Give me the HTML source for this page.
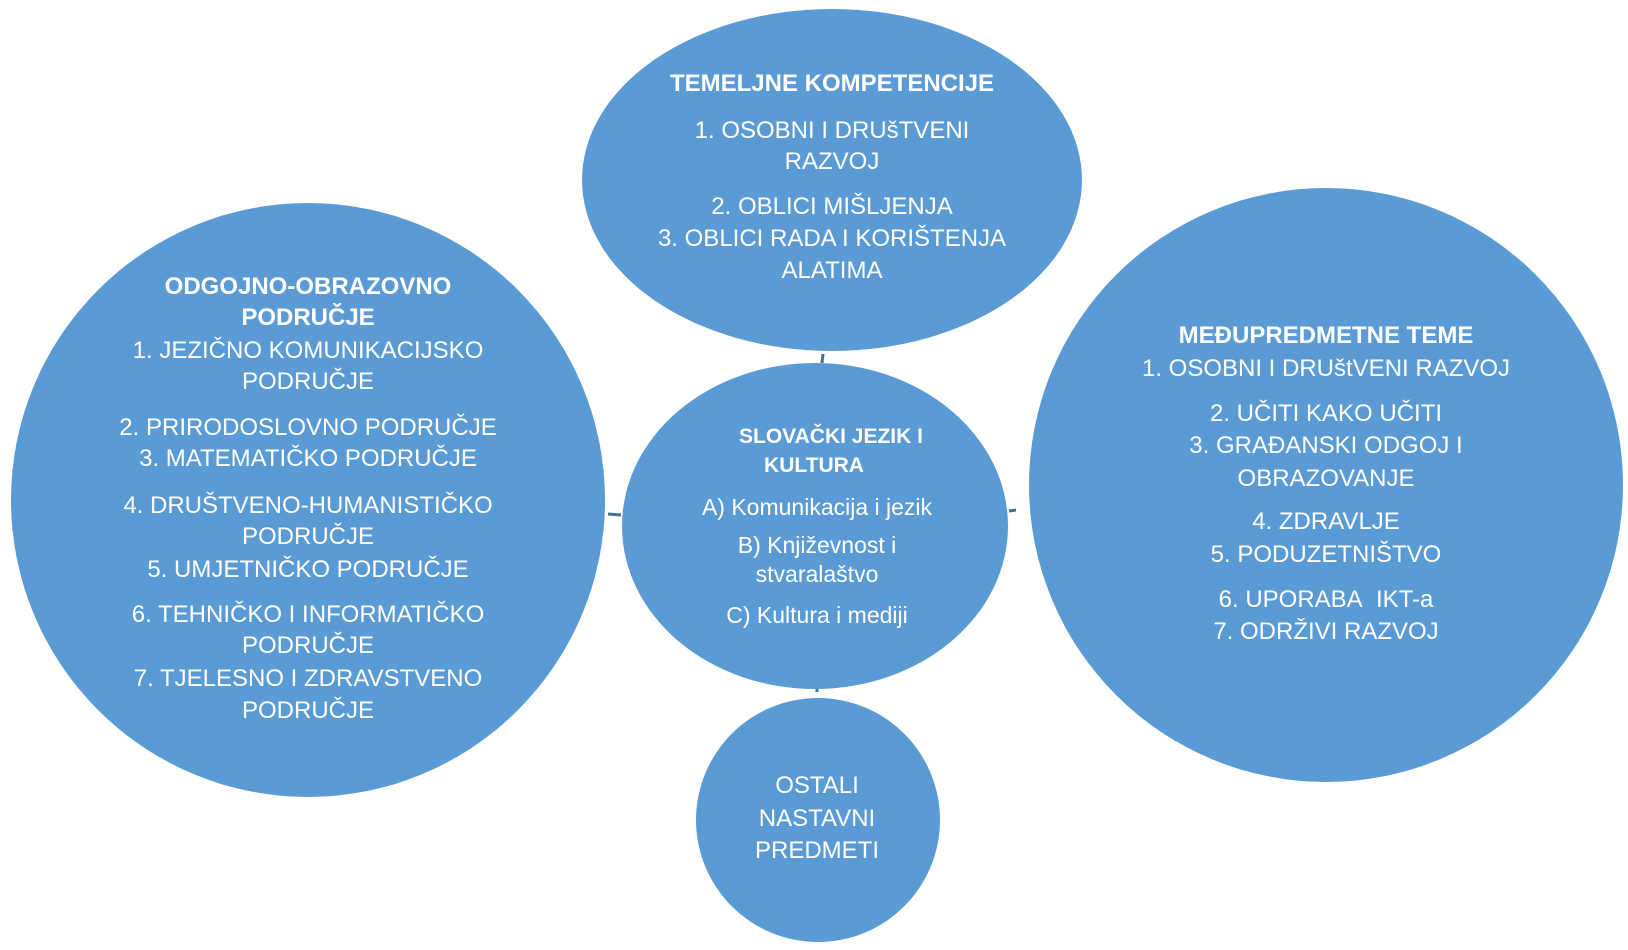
<!DOCTYPE html>
<html><head><meta charset="utf-8"><style>
body{margin:0;width:1628px;height:950px;background:#fff;position:relative;overflow:hidden;font-family:"Liberation Sans",sans-serif;}
.t{position:absolute;color:#fff;white-space:nowrap;line-height:30px;height:30px;transform:translateX(-50%);font-size:24px;}
.b{font-weight:bold;}
.s{font-size:23px;}
.sb{font-size:21px;}
</style></head><body>
<svg width="1628" height="950" style="position:absolute;left:0;top:0">
<g fill="#5b9bd5">
<ellipse cx="832" cy="180" rx="250" ry="171"/>
<circle cx="308" cy="500" r="297"/>
<circle cx="1326" cy="485" r="297"/>
<circle cx="818" cy="820" r="122"/>
<ellipse cx="815" cy="526" rx="193" ry="163"/>
</g>
<g stroke="#41719c" stroke-width="3">
<line x1="823" y1="354" x2="822" y2="363"/>
<line x1="608" y1="514" x2="621" y2="515"/>
<line x1="1009" y1="511" x2="1016" y2="510"/>
<line x1="817" y1="689" x2="817" y2="692"/>
</g>
</svg>
<div class="t b" style="left:832px;top:69px">TEMELJNE KOMPETENCIJE</div>
<div class="t" style="left:832px;top:116px">1. OSOBNI I DRUšTVENI</div>
<div class="t" style="left:832px;top:147px">RAZVOJ</div>
<div class="t" style="left:832px;top:192px">2. OBLICI MIŠLJENJA</div>
<div class="t" style="left:832px;top:224px">3. OBLICI RADA I KORIŠTENJA</div>
<div class="t" style="left:832px;top:256px">ALATIMA</div>

<div class="t b" style="left:308px;top:272px">ODGOJNO-OBRAZOVNO</div>
<div class="t b" style="left:308px;top:303px">PODRUČJE</div>
<div class="t" style="left:308px;top:336px">1. JEZIČNO KOMUNIKACIJSKO</div>
<div class="t" style="left:308px;top:367px">PODRUČJE</div>
<div class="t" style="left:308px;top:413px">2. PRIRODOSLOVNO PODRUČJE</div>
<div class="t" style="left:308px;top:444px">3. MATEMATIČKO PODRUČJE</div>
<div class="t" style="left:308px;top:491px">4. DRUŠTVENO-HUMANISTIČKO</div>
<div class="t" style="left:308px;top:522px">PODRUČJE</div>
<div class="t" style="left:308px;top:555px">5. UMJETNIČKO PODRUČJE</div>
<div class="t" style="left:308px;top:600px">6. TEHNIČKO I INFORMATIČKO</div>
<div class="t" style="left:308px;top:631px">PODRUČJE</div>
<div class="t" style="left:308px;top:664px">7. TJELESNO I ZDRAVSTVENO</div>
<div class="t" style="left:308px;top:696px">PODRUČJE</div>

<div class="t b" style="left:1326px;top:321px">MEĐUPREDMETNE TEME</div>
<div class="t" style="left:1326px;top:354px">1. OSOBNI I DRUštVENI RAZVOJ</div>
<div class="t" style="left:1326px;top:399px">2. UČITI KAKO UČITI</div>
<div class="t" style="left:1326px;top:431px">3. GRAĐANSKI ODGOJ I</div>
<div class="t" style="left:1326px;top:464px">OBRAZOVANJE</div>
<div class="t" style="left:1326px;top:507px">4. ZDRAVLJE</div>
<div class="t" style="left:1326px;top:540px">5. PODUZETNIŠTVO</div>
<div class="t" style="left:1326px;top:585px">6. UPORABA&nbsp; IKT-a</div>
<div class="t" style="left:1326px;top:617px">7. ODRŽIVI RAZVOJ</div>

<div class="t b sb" style="left:831px;top:422px">SLOVAČKI JEZIK I</div>
<div class="t b sb" style="left:814px;top:451px">KULTURA</div>
<div class="t s" style="left:817px;top:492px">A) Komunikacija i jezik</div>
<div class="t s" style="left:817px;top:530px">B) Književnost i</div>
<div class="t s" style="left:817px;top:559px">stvaralaštvo</div>
<div class="t s" style="left:817px;top:600px">C) Kultura i mediji</div>

<div class="t" style="left:817px;top:771px">OSTALI</div>
<div class="t" style="left:817px;top:804px">NASTAVNI</div>
<div class="t" style="left:817px;top:836px">PREDMETI</div>
</body></html>
